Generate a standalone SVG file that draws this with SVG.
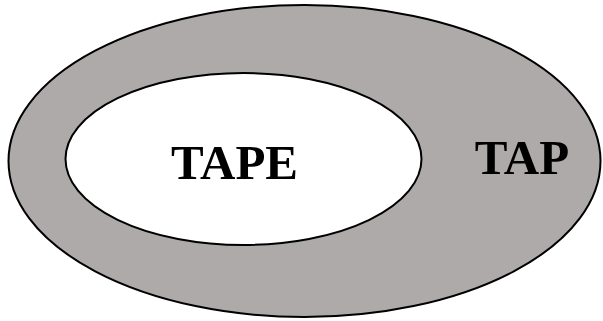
<svg xmlns="http://www.w3.org/2000/svg" width="603" height="321" viewBox="0 0 603 321">
<style>
.shape{stroke:#000;stroke-width:2}
.lbl{font-family:"Liberation Serif","Times New Roman",serif;font-weight:bold;font-size:49px;fill:#000}
</style>
<rect width="603" height="321" fill="#fff"/>
<g id="tap">
<ellipse class="shape" cx="304.5" cy="161" rx="296" ry="156" fill="#aeaaa9"/>
<text class="lbl" x="522" y="174" text-anchor="middle">TAP</text>
</g>
<g id="tape">
<ellipse class="shape" cx="243.5" cy="159" rx="178" ry="86" fill="#fff"/>
<text class="lbl" x="234.5" y="179" text-anchor="middle">TAPE</text>
</g>
<g id="connectors"/>
</svg>
